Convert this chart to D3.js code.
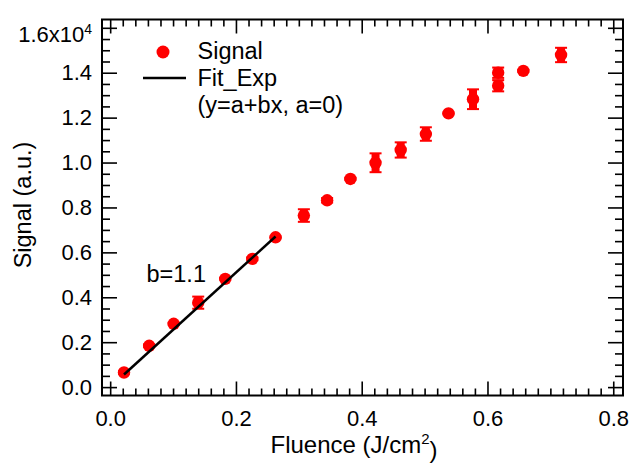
<!DOCTYPE html>
<html>
<head>
<meta charset="utf-8">
<script src="https://cdn.jsdelivr.net/npm/d3@7"></script>
<style>
  body { margin: 0; background: #fff; }
  svg text { font-family: "Liberation Sans", Arial, sans-serif; fill: #000; }
</style>
</head>
<body>
<div id="chart-area"></div>
<script>
// measured data (signal in a.u., fluence in J/cm^2)
let fluence = [0.022, 0.062, 0.101, 0.140, 0.183, 0.226, 0.263, 0.308, 0.345, 0.382, 0.422, 0.462, 0.502, 0.538, 0.577, 0.617, 0.617, 0.657, 0.717]
let signal = [650, 1840, 2820, 3760, 4820, 5710, 6670, 7640, 8320, 9270, 9990, 10560, 11270, 12190, 12820, 14000, 13420, 14080, 14790]
let signalErr = [60, 60, 40, 270, 40, 60, 40, 280, 100, 40, 420, 340, 300, 40, 440, 230, 250, 40, 320]

// linear fit through origin over the first points
let fitSlope = 25500
let fitRange = [0.022, 0.263]

let xMajor = [0, 0.2, 0.4, 0.6, 0.8]
let yMajor = [0, 2000, 4000, 6000, 8000, 10000, 12000, 14000, 16000]

let legendLabels = ["Signal", "Fit_Exp", "(y=a+bx, a=0)"]
let fitNote = "b=1.1"

let tickFont = "22px"
let textFont = "23.5px"
let red = "#ff0000"

let margin = { top: 19.5, right: 9, bottom: 67.5, left: 102 }
let canvasWidth = 632 - margin.left - margin.right
let canvasHeight = 463 - margin.top - margin.bottom

let svg = d3.select("#chart-area").append("svg")
  .attr("width", 632)
  .attr("height", 463)

let g = svg.append("g")
  .attr("transform", "translate(" + margin.left + ", " + margin.top + ")")

let x = d3.scaleLinear()
  .domain([-0.013, 0.8155])
  .range([0, canvasWidth])

let y = d3.scaleLinear()
  .domain([-374, 16370])
  .range([canvasHeight, 0])

let xMinor = d3.range(1, 41).map(i => +(i * 0.02).toFixed(2)).filter(v => xMajor.indexOf(v) < 0)
let yMinor = d3.range(1, 33).map(i => i * 500).filter(v => yMajor.indexOf(v) < 0)

const styleAxis = (sel) => {
  sel.select(".domain").remove()
  sel.selectAll("line").attr("stroke", "#000").attr("stroke-width", 1.6)
  sel.selectAll("text").style("font-size", tickFont).attr("fill", "#000")
}

// bottom axis with labels
g.append("g")
  .attr("transform", "translate(0," + canvasHeight + ")")
  .call(d3.axisBottom(x).tickValues(xMajor).tickSize(-14).tickSizeOuter(0).tickPadding(14.4)
    .tickFormat(d3.format(".1f")))
  .call(styleAxis)
g.append("g")
  .attr("transform", "translate(0," + canvasHeight + ")")
  .call(d3.axisBottom(x).tickValues(xMinor).tickSize(-7).tickSizeOuter(0).tickFormat(""))
  .call(styleAxis)

// top mirror
g.append("g")
  .call(d3.axisTop(x).tickValues(xMajor).tickSize(-14).tickSizeOuter(0).tickFormat(""))
  .call(styleAxis)
g.append("g")
  .call(d3.axisTop(x).tickValues(xMinor).tickSize(-7).tickSizeOuter(0).tickFormat(""))
  .call(styleAxis)

// left axis with labels
let yAxisGroup = g.append("g")
  .call(d3.axisLeft(y).tickValues(yMajor).tickSize(-15).tickSizeOuter(0).tickPadding(10)
    .tickFormat(v => (v / 1e4).toFixed(1)))
  .call(styleAxis)
g.append("g")
  .call(d3.axisLeft(y).tickValues(yMinor).tickSize(-8).tickSizeOuter(0).tickFormat(""))
  .call(styleAxis)

// top label gets the x10^4 multiplier
yAxisGroup.selectAll(".tick text")
  .filter(v => v === 16000)
  .attr("y", 7)
  .text("1.6x10")
  .append("tspan")
    .attr("dy", "-0.6em")
    .style("font-size", "14px")
    .text("4")

// right mirror
g.append("g")
  .attr("transform", "translate(" + canvasWidth + ",0)")
  .call(d3.axisRight(y).tickValues(yMajor).tickSize(-15).tickSizeOuter(0).tickFormat(""))
  .call(styleAxis)
g.append("g")
  .attr("transform", "translate(" + canvasWidth + ",0)")
  .call(d3.axisRight(y).tickValues(yMinor).tickSize(-8).tickSizeOuter(0).tickFormat(""))
  .call(styleAxis)

// frame
g.append("rect")
  .attr("width", canvasWidth)
  .attr("height", canvasHeight)
  .attr("fill", "none")
  .attr("stroke", "#000")
  .attr("stroke-width", 2)

let points = fluence.map((f, i) => ({ f: f, s: signal[i], e: signalErr[i] }))

// error bars (thick, as in the original plot)
let bars = g.selectAll(".err").data(points).enter().append("g").attr("class", "err")
bars.append("line")
  .attr("x1", d => x(d.f)).attr("x2", d => x(d.f))
  .attr("y1", d => y(d.s - d.e)).attr("y2", d => y(d.s + d.e))
  .attr("stroke", red).attr("stroke-width", 8)
bars.selectAll(".cap").data(d => [d.s - d.e, d.s + d.e].map(v => ({ f: d.f, v: v })))
  .enter().append("line")
  .attr("x1", d => x(d.f) - 6).attr("x2", d => x(d.f) + 6)
  .attr("y1", d => y(d.v)).attr("y2", d => y(d.v))
  .attr("stroke", red).attr("stroke-width", 2)

g.selectAll("circle.pt").data(points).enter().append("circle")
  .attr("class", "pt")
  .attr("cx", d => x(d.f))
  .attr("cy", d => y(d.s))
  .attr("r", 6.2)
  .attr("fill", red)

// fit line
g.append("line")
  .attr("x1", x(fitRange[0])).attr("y1", y(fitSlope * fitRange[0]))
  .attr("x2", x(fitRange[1])).attr("y2", y(fitSlope * fitRange[1]))
  .attr("stroke", "#000").attr("stroke-width", 2.5)

g.append("text")
  .attr("x", 146.5 - margin.left)
  .attr("y", 281.7 - margin.top)
  .style("font-size", textFont)
  .text(fitNote)

// legend
let legend = svg.append("g")
legend.append("circle").attr("cx", 163).attr("cy", 52).attr("r", 6.5).attr("fill", red)
legend.append("line").attr("x1", 143).attr("x2", 186).attr("y1", 78).attr("y2", 78)
  .attr("stroke", "#000").attr("stroke-width", 2.5)
legend.selectAll("text.leg").data(legendLabels).enter().append("text")
  .attr("class", "leg")
  .attr("x", 197.5)
  .attr("y", (d, i) => 59 + i * 27)
  .style("font-size", textFont)
  .text(d => d)

// axis titles
let xTitle = svg.append("text")
  .attr("x", 354)
  .attr("y", 453)
  .attr("text-anchor", "middle")
  .style("font-size", "24px")
  .text("Fluence (J/cm")
xTitle.append("tspan").attr("dy", "-0.6em").style("font-size", "15px").text("2")
xTitle.append("tspan").attr("dy", "0.6em").text(")")

svg.append("text")
  .attr("transform", "translate(31, 205) rotate(-90)")
  .attr("text-anchor", "middle")
  .style("font-size", textFont)
  .text("Signal (a.u.)")
</script>
</body>
</html>
